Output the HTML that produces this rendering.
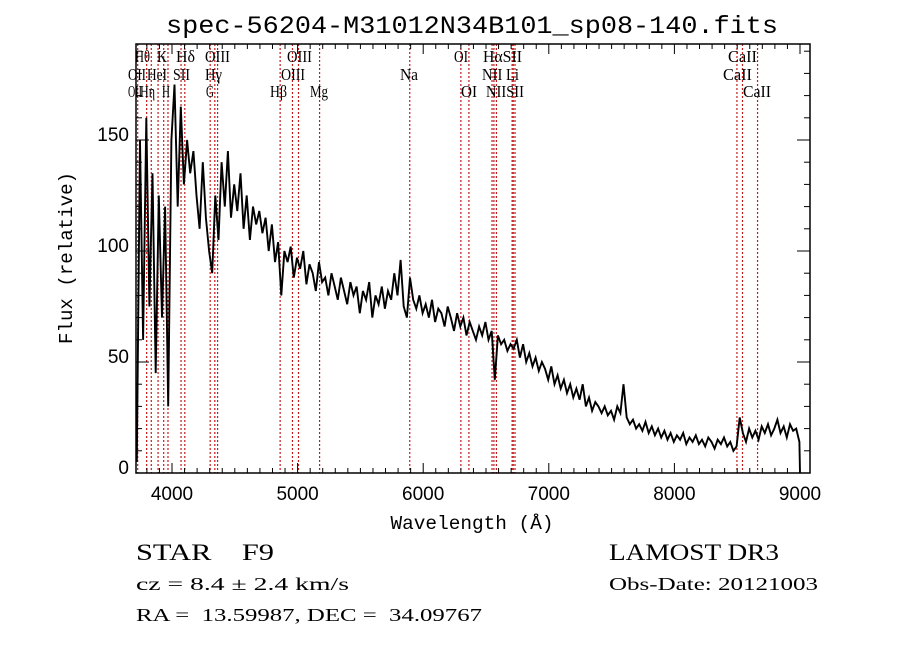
<!DOCTYPE html>
<html><head><meta charset="utf-8"><style>
html,body{margin:0;padding:0;background:#fff;}
svg{display:block;}
text{white-space:pre;}
</style></head><body>
<svg id="chart" width="900" height="649" viewBox="0 0 900 649" xmlns="http://www.w3.org/2000/svg" xml:space="preserve">
<rect width="900" height="649" fill="#fff"/>
<text x="472" y="33" text-anchor="middle" font-family="Liberation Mono, monospace" font-size="25" textLength="612" lengthAdjust="spacingAndGlyphs">spec-56204-M31012N34B101_sp08-140.fits</text>
<g id="lines"></g>
<g id="series"></g>
<g id="axes"></g>
<g id="labels"></g>
<text x="472" y="529" text-anchor="middle" font-family="Liberation Mono, monospace" font-size="19" textLength="163" lengthAdjust="spacingAndGlyphs">Wavelength (Å)</text>
<text transform="translate(72,258) rotate(-90)" text-anchor="middle" font-family="Liberation Mono, monospace" font-size="19" textLength="172" lengthAdjust="spacingAndGlyphs">Flux (relative)</text>
<text x="136" y="560" font-family="Liberation Serif, serif" font-size="23" textLength="138" lengthAdjust="spacingAndGlyphs">STAR    F9</text>
<text x="136" y="590" font-family="Liberation Serif, serif" font-size="18" textLength="213" lengthAdjust="spacingAndGlyphs">cz = 8.4 ± 2.4 km/s</text>
<text x="136" y="621" font-family="Liberation Serif, serif" font-size="18" textLength="346" lengthAdjust="spacingAndGlyphs">RA =  13.59987, DEC =  34.09767</text>
<text x="609" y="560" font-family="Liberation Serif, serif" font-size="23" textLength="170" lengthAdjust="spacingAndGlyphs">LAMOST DR3</text>
<text x="609" y="590" font-family="Liberation Serif, serif" font-size="18" textLength="209" lengthAdjust="spacingAndGlyphs">Obs-Date: 20121003</text>
</svg>
<script>
const waveStart = 3720;
const waveStep = 25;
const flux = [
5,150,60,160,75,135,45,125,70,120,
30,150,175,120,165,130,150,135,145,125,
110,140,115,100,90,125,105,140,120,145,
115,130,118,135,110,125,105,120,112,118,
108,115,100,112,95,104,80,100,95,102,
88,97,92,100,85,94,90,82,95,86,
88,80,90,84,78,88,82,76,86,80,
84,72,82,78,86,70,80,76,84,74,
82,78,90,80,96,75,70,88,78,74,
80,72,76,70,78,68,74,72,66,75,
70,64,72,66,70,62,68,64,60,66,
62,68,60,64,42,62,58,60,55,58,
56,60,52,58,50,54,48,52,46,50,
47,42,48,40,44,38,42,36,40,34,
38,33,40,30,34,28,32,30,27,30,
26,28,24,30,27,40,25,22,24,20,
22,19,23,18,21,17,20,16,19,15,
18,14,17,15,18,13,16,14,17,13,
15,12,16,14,11,15,13,16,12,14,
10,12,25,18,14,20,16,19,15,21,
18,22,17,20,24,18,21,16,22,19,
20,14,0
];
const xTicks = [4000,5000,6000,7000,8000,9000];
const yTicks = [0,50,100,150];
const lineWaves = [3727,3798,3835,3889,3934,3968,4072,4102,4304,4341,4363,4861,4959,5007,5175,5893,6300,6364,6548,6563,6583,6708,6717,6731,8498,8542,8662];
const lineLabels = [
 {t:"Hθ",w:3798,r:0},{t:"K",w:3934,r:0},{t:"Hδ",w:4102,r:0},{t:"OIII",w:4363,r:0},{t:"OIII",w:5007,r:0},
 {t:"OI",w:6300,r:0},{t:"HαSII",w:6563,r:0},{t:"CaII",w:8542,r:0},
 {t:"OII",w:3727,r:1},{t:"HeI",w:3889,r:1},{t:"SII",w:4072,r:1},{t:"Hγ",w:4341,r:1},{t:"OIII",w:4959,r:1},
 {t:"Na",w:5893,r:1},{t:"NII Li",w:6583,r:1},{t:"CaII",w:8498,r:1},
 {t:"OII",w:3727,r:2},{t:"Hη",w:3835,r:2},{t:"H",w:3968,r:2},{t:"G",w:4304,r:2},{t:"Hβ",w:4861,r:2},{t:"Mg",w:5175,r:2},
 {t:"OI",w:6364,r:2},{t:"NIISII",w:6583,r:2},{t:"CaII",w:8662,r:2}
];
const labelX = [135,157,176,205,287, 454,483,728, 128,147,173,205,281, 400,482,723, 128,140,162,206,270,310, 461,486,743];
const labelW = [15,10,19,25,25, 14,39,29, 18,20,17,17,24, 18,37,29, 14,15,8,8,17,18, 16,38,28];

const L=136,R=810,T=44,B=473;
const xs = w => 172 + (w-4000)*0.1256;
const ys = v => B - v*2.22;
const NS="http://www.w3.org/2000/svg";
function mk(tag,attrs,parent){const e=document.createElementNS(NS,tag);for(const k in attrs)e.setAttribute(k,attrs[k]);parent.appendChild(e);return e;}

const gl=document.getElementById('lines');
lineWaves.forEach(w=>{
 const e=mk('line',{x1:xs(w),x2:xs(w),y1:T,y2:B,stroke:'#c41a1a','stroke-width':1.2,'stroke-dasharray':'2,2'},gl);
 
 
});

const gs=document.getElementById('series');
let d='';
flux.forEach((v,i)=>{const w=Math.min(waveStart+i*waveStep,9000);d+=(i?'L':'M')+xs(w).toFixed(1)+','+ys(v).toFixed(1);});
const p=mk('path',{d:d,fill:'none',stroke:'#000','stroke-width':1.9,'stroke-linejoin':'miter'},gs);



const ga=document.getElementById('axes');
const box=mk('rect',{x:L,y:T,width:R-L,height:B-T,fill:'none',stroke:'#000','stroke-width':1.5},ga);


for(let w=3800;w<=9000;w+=100){
 const x=xs(w);const len=(w%1000===0)?10:5;
 mk('line',{x1:x,x2:x,y1:B,y2:B-len,stroke:'#000','stroke-width':1},ga);
 mk('line',{x1:x,x2:x,y1:T,y2:T+len,stroke:'#000','stroke-width':1},ga);
}
for(let v=0;v<=190;v+=10){
 const y=ys(v);const len=(v%50===0)?13:6;
 mk('line',{x1:L,x2:L+len,y1:y,y2:y,stroke:'#000','stroke-width':1},ga);
 mk('line',{x1:R,x2:R-len,y1:y,y2:y,stroke:'#000','stroke-width':1},ga);
}
xTicks.forEach(w=>{
 const t=mk('text',{x:xs(w),y:500,'text-anchor':'middle','font-family':'Liberation Sans, sans-serif','font-size':19},ga);
 t.textContent=w;
 
 
});
yTicks.forEach(v=>{
 const t=mk('text',{x:129,y:ys(v)+1,'text-anchor':'end','font-family':'Liberation Sans, sans-serif','font-size':19},ga);
 t.textContent=v;
 
 
});

const glab=document.getElementById('labels');
const rowY=[62,80,97];
lineLabels.forEach((o,i)=>{
 const t=mk('text',{x:labelX[i],y:rowY[o.r],'font-family':'Liberation Serif, serif','font-size':17,textLength:labelW[i],lengthAdjust:'spacingAndGlyphs'},glab);
 t.textContent=o.t;
 
 
});
</script>
</body></html>
